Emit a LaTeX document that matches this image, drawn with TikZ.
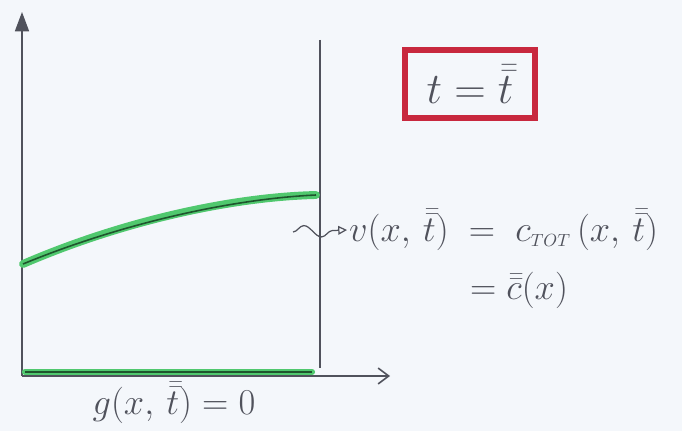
\documentclass[tikz,border=0pt]{standalone}
\usepackage{amsmath}
\usepackage{tikz}
\usetikzlibrary{arrows.meta, positioning, decorations.pathmorphing}
\definecolor{mypencil}{RGB}{80,82,92}
\definecolor{mygreen}{RGB}{80,200,110}
\definecolor{mydarkgreen}{RGB}{30,85,45}
\definecolor{myred}{RGB}{200,40,62}
\definecolor{mypaper}{RGB}{244,247,251}
\tikzset{
  axis/.style={line width=0.9pt, color=mypencil},
  frame/.style={line width=0.7pt, color=mypencil},
  greenband/.style={line width=4.5pt, color=mygreen, line cap=round},
  greencore/.style={line width=0.9pt, color=mydarkgreen},
  hand/.style={font=\fontsize{20}{24}\selectfont, text=mypencil, inner sep=1pt},
  redbox/.style={draw=myred, line width=3pt, minimum width=2.6cm,
    minimum height=1.36cm, font=\fontsize{24}{26}\selectfont, text=mypencil},
  squiggle/.style={-{Triangle[open, length=5pt, width=5pt]}, line width=0.7pt,
    color=mypencil, decorate,
    decoration={snake, amplitude=1.2mm, segment length=7mm, post length=2mm}}
}
\begin{document}
\begin{tikzpicture}[x=0.02cm, y=-0.02cm]
  % paper
  \useasboundingbox (0,0) rectangle (682,431);
  \fill[mypaper] (0,0) rectangle (682,431);

  % axes and the right end line
  \coordinate (O) at (22,376);
  \coordinate (ytop) at (22,12);
  \coordinate (xend) at (390,376);
  \coordinate (rtop) at (320,40);
  \coordinate (rbot) at (320,368);
  \draw[axis, -{Triangle[width=8pt, length=11pt]}] (O) -- (ytop);
  \draw[axis, -{Straight Barb[width=9pt, length=6pt]}] (O) -- (xend);
  \draw[frame] (rtop) -- (rbot);

  % green profile c(x) and g = 0 on the axis
  \coordinate (cstart) at (23,264);
  \coordinate (cend) at (316,195);
  \draw[greenband] (cstart) .. controls (120,222) and (230,197) .. (cend);
  \draw[greencore] (cstart) .. controls (120,224) and (230,199) .. (cend);
  \coordinate (gstart) at (25,372);
  \coordinate (gend) at (312,372);
  \draw[greenband, line width=3.5pt] (gstart) -- (gend);
  \draw[greencore] (gstart) -- (gend);

  % labels
  \node[redbox] (tbox) at (470,84) {$t = \bar{\bar{t}}$};
  \node[hand, anchor=west] (vlab) at (347,230)
    {$v(x,\,\bar{\bar{t}})\;=\;c_{\scriptscriptstyle TOT}\,(x,\,\bar{\bar{t}})$};
  \node[hand, anchor=west] (clab) at (468,290) {$= \bar{\bar{c}}(x)$};
  \node[hand, font=\fontsize{22}{24}\selectfont] (glab) at (174,403)
    {$g(x,\,\bar{\bar{t}}) = 0$};

  % squiggly pointer to the label
  \coordinate (sq) at (293,232);
  \draw[squiggle] (sq) -- (vlab.west);
\end{tikzpicture}
\end{document}
